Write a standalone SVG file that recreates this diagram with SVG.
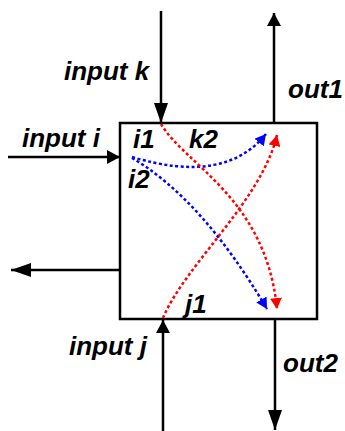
<svg xmlns="http://www.w3.org/2000/svg" width="345" height="431" viewBox="0 0 345 431">
  <style>
    .lbl { font-family: "Liberation Sans", Arial, sans-serif; font-weight: bold; font-style: italic; font-size: 26px; fill: #000; }
    .wire { stroke: #000; stroke-width: 2.5; fill: none; }
    .box { stroke: #000; stroke-width: 2.5; fill: #fff; }
    .red { stroke: #ff0000; stroke-width: 2.5; fill: none; stroke-dasharray: 3 2.5; }
    .blue { stroke: #0000ff; stroke-width: 2.5; fill: none; stroke-dasharray: 3 2.5; }
  </style>
  <defs>
    <marker id="ahLong" markerUnits="userSpaceOnUse" markerWidth="20" markerHeight="14" refX="20" refY="7" orient="auto">
      <path d="M0,0 L20,7 L0,14 z" fill="#000"/>
    </marker>
    <marker id="ahShort" markerUnits="userSpaceOnUse" markerWidth="13" markerHeight="14" refX="13" refY="7" orient="auto">
      <path d="M0,0 L13,7 L0,14 z" fill="#000"/>
    </marker>
    <marker id="ahRed" markerUnits="userSpaceOnUse" markerWidth="12" markerHeight="12" refX="11" refY="6" orient="auto">
      <path d="M0,0 L11,6 L0,12 z" fill="#ff0000"/>
    </marker>
    <marker id="ahBlue" markerUnits="userSpaceOnUse" markerWidth="12" markerHeight="12" refX="11" refY="6" orient="auto">
      <path d="M0,0 L11,6 L0,12 z" fill="#0000ff"/>
    </marker>
  </defs>

  <g id="block">
    <rect class="box" x="120" y="123" width="197" height="196"/>
    <text class="lbl" x="133" y="148">i1</text>
    <text class="lbl" x="189" y="148">k2</text>
    <text class="lbl" x="128" y="188">i2</text>
    <text class="lbl" x="185" y="313">j1</text>
  </g>

  <g id="labels">
    <text class="lbl" x="64" y="80">input k</text>
    <text class="lbl" x="288" y="98">out1</text>
    <text class="lbl" x="22" y="147">input i</text>
    <text class="lbl" x="69" y="355">input j</text>
    <text class="lbl" x="283" y="372">out2</text>
  </g>

  <g id="connectors">
    <path id="in-k" class="wire" d="M161,11 L161,123" marker-end="url(#ahLong)"/>
    <path id="out-1" class="wire" d="M274,123 L274,13" marker-end="url(#ahShort)"/>
    <path id="in-i" class="wire" d="M8,157 L120,157" marker-end="url(#ahShort)"/>
    <path id="out-left" class="wire" d="M120,270 L11,270" marker-end="url(#ahLong)"/>
    <path id="in-j" class="wire" d="M163,431 L163,320" marker-end="url(#ahShort)"/>
    <path id="out-2" class="wire" d="M275,319 L275,430" marker-end="url(#ahLong)"/>

    <path id="i1-k2" class="blue" d="M132,157 Q225,185 266,134" marker-end="url(#ahBlue)"/>
    <path id="i2-out2" class="blue" d="M132,158 Q202,199 267,309" marker-end="url(#ahBlue)"/>
    <path id="k-out2" class="red" d="M161,124 C185,165 266,198 277,309" marker-end="url(#ahRed)"/>
    <path id="j-out1" class="red" d="M163,318 C185,265 262,200 277,135" marker-end="url(#ahRed)"/>
  </g>
</svg>
